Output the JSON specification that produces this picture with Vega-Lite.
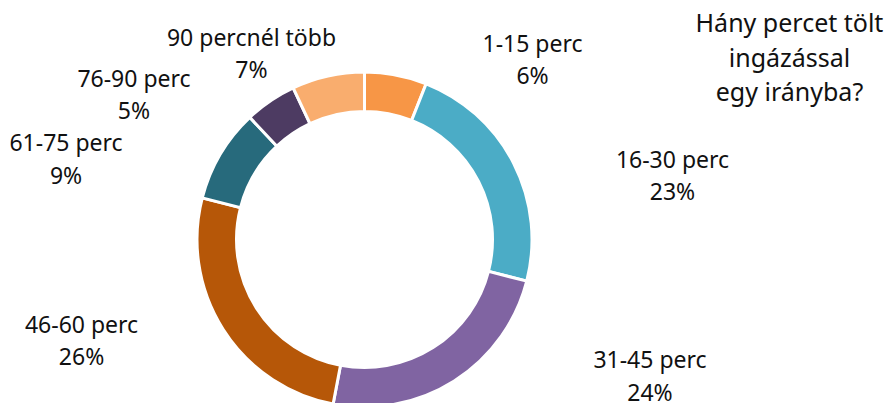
{
  "$schema": "https://vega.github.io/schema/vega-lite/v6.json",
  "width": 729,
  "height": 479,
  "autosize": {"type": "none"},
  "padding": {"left": 0, "top": 0, "right": 164, "bottom": -76},
  "background": "white",
  "config": {"view": {"stroke": null}},
  "title": {
    "text": ["Hány percet tölt", "ingázással", "egy irányba?"],
    "orient": "top",
    "anchor": "middle",
    "frame": "group",
    "dx": 425,
    "offset": -106,
    "fontSize": 25,
    "font": "Noto Sans",
    "fontWeight": "normal",
    "color": "#111111",
    "lineHeight": 34.3
  },
  "data": {
    "values": [
      {"category": "1-15 perc", "share": 0.06},
      {"category": "16-30 perc", "share": 0.23},
      {"category": "31-45 perc", "share": 0.24},
      {"category": "46-60 perc", "share": 0.26},
      {"category": "61-75 perc", "share": 0.09},
      {"category": "76-90 perc", "share": 0.05},
      {"category": "90 percnél több", "share": 0.07}
    ]
  },
  "transform": [
    {"stack": "share", "groupby": [], "sort": [{"field": "category", "order": "ascending"}], "as": ["v0", "v1"]}
  ],
  "layer": [
    {
      "mark": {"type": "arc", "innerRadius": 128, "outerRadius": 167.5, "stroke": "white", "strokeWidth": 3},
      "encoding": {
        "theta": {"field": "v0", "type": "quantitative", "stack": null, "scale": {"domain": [0, 1]}},
        "theta2": {"field": "v1"},
        "color": {
          "field": "category",
          "type": "nominal",
          "legend": null,
          "scale": {
            "domain": ["1-15 perc", "16-30 perc", "31-45 perc", "46-60 perc", "61-75 perc", "76-90 perc", "90 percnél több"],
            "range": ["#F79646", "#4BACC6", "#8064A2", "#B65708", "#276A7C", "#4D3B62", "#F9AD6E"]
          }
        }
      }
    },
    {
      "transform": [{"filter": {"field": "category", "equal": "1-15 perc"}}],
      "encoding": {"theta": {"field": "v0", "type": "quantitative", "stack": null}},
      "layer": [
        {"mark": {"type": "text", "radius": 251.8, "thetaOffset": 0.7306, "fontSize": 23, "font": "Noto Sans", "baseline": "alphabetic", "align": "center", "color": "#111111"}, "encoding": {"text": {"field": "category"}}},
        {"mark": {"type": "text", "radius": 251.8, "thetaOffset": 0.7306, "dy": 32.5, "fontSize": 23, "font": "Noto Sans", "baseline": "alphabetic", "align": "center", "color": "#111111"}, "encoding": {"text": {"field": "share", "type": "quantitative", "format": ".0%"}}}
      ]
    },
    {
      "transform": [{"filter": {"field": "category", "equal": "16-30 perc"}}],
      "encoding": {"theta": {"field": "v0", "type": "quantitative", "stack": null}},
      "layer": [
        {"mark": {"type": "text", "radius": 316.2, "thetaOffset": 0.9657, "fontSize": 23, "font": "Noto Sans", "baseline": "alphabetic", "align": "center", "color": "#111111"}, "encoding": {"text": {"field": "category"}}},
        {"mark": {"type": "text", "radius": 316.2, "thetaOffset": 0.9657, "dy": 32.5, "fontSize": 23, "font": "Noto Sans", "baseline": "alphabetic", "align": "center", "color": "#111111"}, "encoding": {"text": {"field": "share", "type": "quantitative", "format": ".0%"}}}
      ]
    },
    {
      "transform": [{"filter": {"field": "category", "equal": "31-45 perc"}}],
      "encoding": {"theta": {"field": "v0", "type": "quantitative", "stack": null}},
      "layer": [
        {"mark": {"type": "text", "radius": 313.1, "thetaOffset": 0.1716, "fontSize": 23, "font": "Noto Sans", "baseline": "alphabetic", "align": "center", "color": "#111111"}, "encoding": {"text": {"field": "category"}}},
        {"mark": {"type": "text", "radius": 313.1, "thetaOffset": 0.1716, "dy": 32.5, "fontSize": 23, "font": "Noto Sans", "baseline": "alphabetic", "align": "center", "color": "#111111"}, "encoding": {"text": {"field": "share", "type": "quantitative", "format": ".0%"}}}
      ]
    },
    {
      "transform": [{"filter": {"field": "category", "equal": "46-60 perc"}}],
      "encoding": {"theta": {"field": "v0", "type": "quantitative", "stack": null}},
      "layer": [
        {"mark": {"type": "text", "radius": 298.0, "thetaOffset": 1.0633, "fontSize": 23, "font": "Noto Sans", "baseline": "alphabetic", "align": "center", "color": "#111111"}, "encoding": {"text": {"field": "category"}}},
        {"mark": {"type": "text", "radius": 298.0, "thetaOffset": 1.0633, "dy": 32.5, "fontSize": 23, "font": "Noto Sans", "baseline": "alphabetic", "align": "center", "color": "#111111"}, "encoding": {"text": {"field": "share", "type": "quantitative", "format": ".0%"}}}
      ]
    },
    {
      "transform": [{"filter": {"field": "category", "equal": "61-75 perc"}}],
      "encoding": {"theta": {"field": "v0", "type": "quantitative", "stack": null}},
      "layer": [
        {"mark": {"type": "text", "radius": 311.3, "thetaOffset": 0.0368, "fontSize": 23, "font": "Noto Sans", "baseline": "alphabetic", "align": "center", "color": "#111111"}, "encoding": {"text": {"field": "category"}}},
        {"mark": {"type": "text", "radius": 311.3, "thetaOffset": 0.0368, "dy": 32.5, "fontSize": 23, "font": "Noto Sans", "baseline": "alphabetic", "align": "center", "color": "#111111"}, "encoding": {"text": {"field": "share", "type": "quantitative", "format": ".0%"}}}
      ]
    },
    {
      "transform": [{"filter": {"field": "category", "equal": "76-90 perc"}}],
      "encoding": {"theta": {"field": "v0", "type": "quantitative", "stack": null}},
      "layer": [
        {"mark": {"type": "text", "radius": 276.4, "thetaOffset": -0.2323, "fontSize": 23, "font": "Noto Sans", "baseline": "alphabetic", "align": "center", "color": "#111111"}, "encoding": {"text": {"field": "category"}}},
        {"mark": {"type": "text", "radius": 276.4, "thetaOffset": -0.2323, "dy": 32.5, "fontSize": 23, "font": "Noto Sans", "baseline": "alphabetic", "align": "center", "color": "#111111"}, "encoding": {"text": {"field": "share", "type": "quantitative", "format": ".0%"}}}
      ]
    },
    {
      "transform": [{"filter": {"field": "category", "equal": "90 percnél több"}}],
      "encoding": {"theta": {"field": "v0", "type": "quantitative", "stack": null}},
      "layer": [
        {"mark": {"type": "text", "radius": 224.5, "thetaOffset": -0.0876, "fontSize": 23, "font": "Noto Sans", "baseline": "alphabetic", "align": "center", "color": "#111111"}, "encoding": {"text": {"field": "category"}}},
        {"mark": {"type": "text", "radius": 224.5, "thetaOffset": -0.0876, "dy": 32.5, "fontSize": 23, "font": "Noto Sans", "baseline": "alphabetic", "align": "center", "color": "#111111"}, "encoding": {"text": {"field": "share", "type": "quantitative", "format": ".0%"}}}
      ]
    }
  ]
}
